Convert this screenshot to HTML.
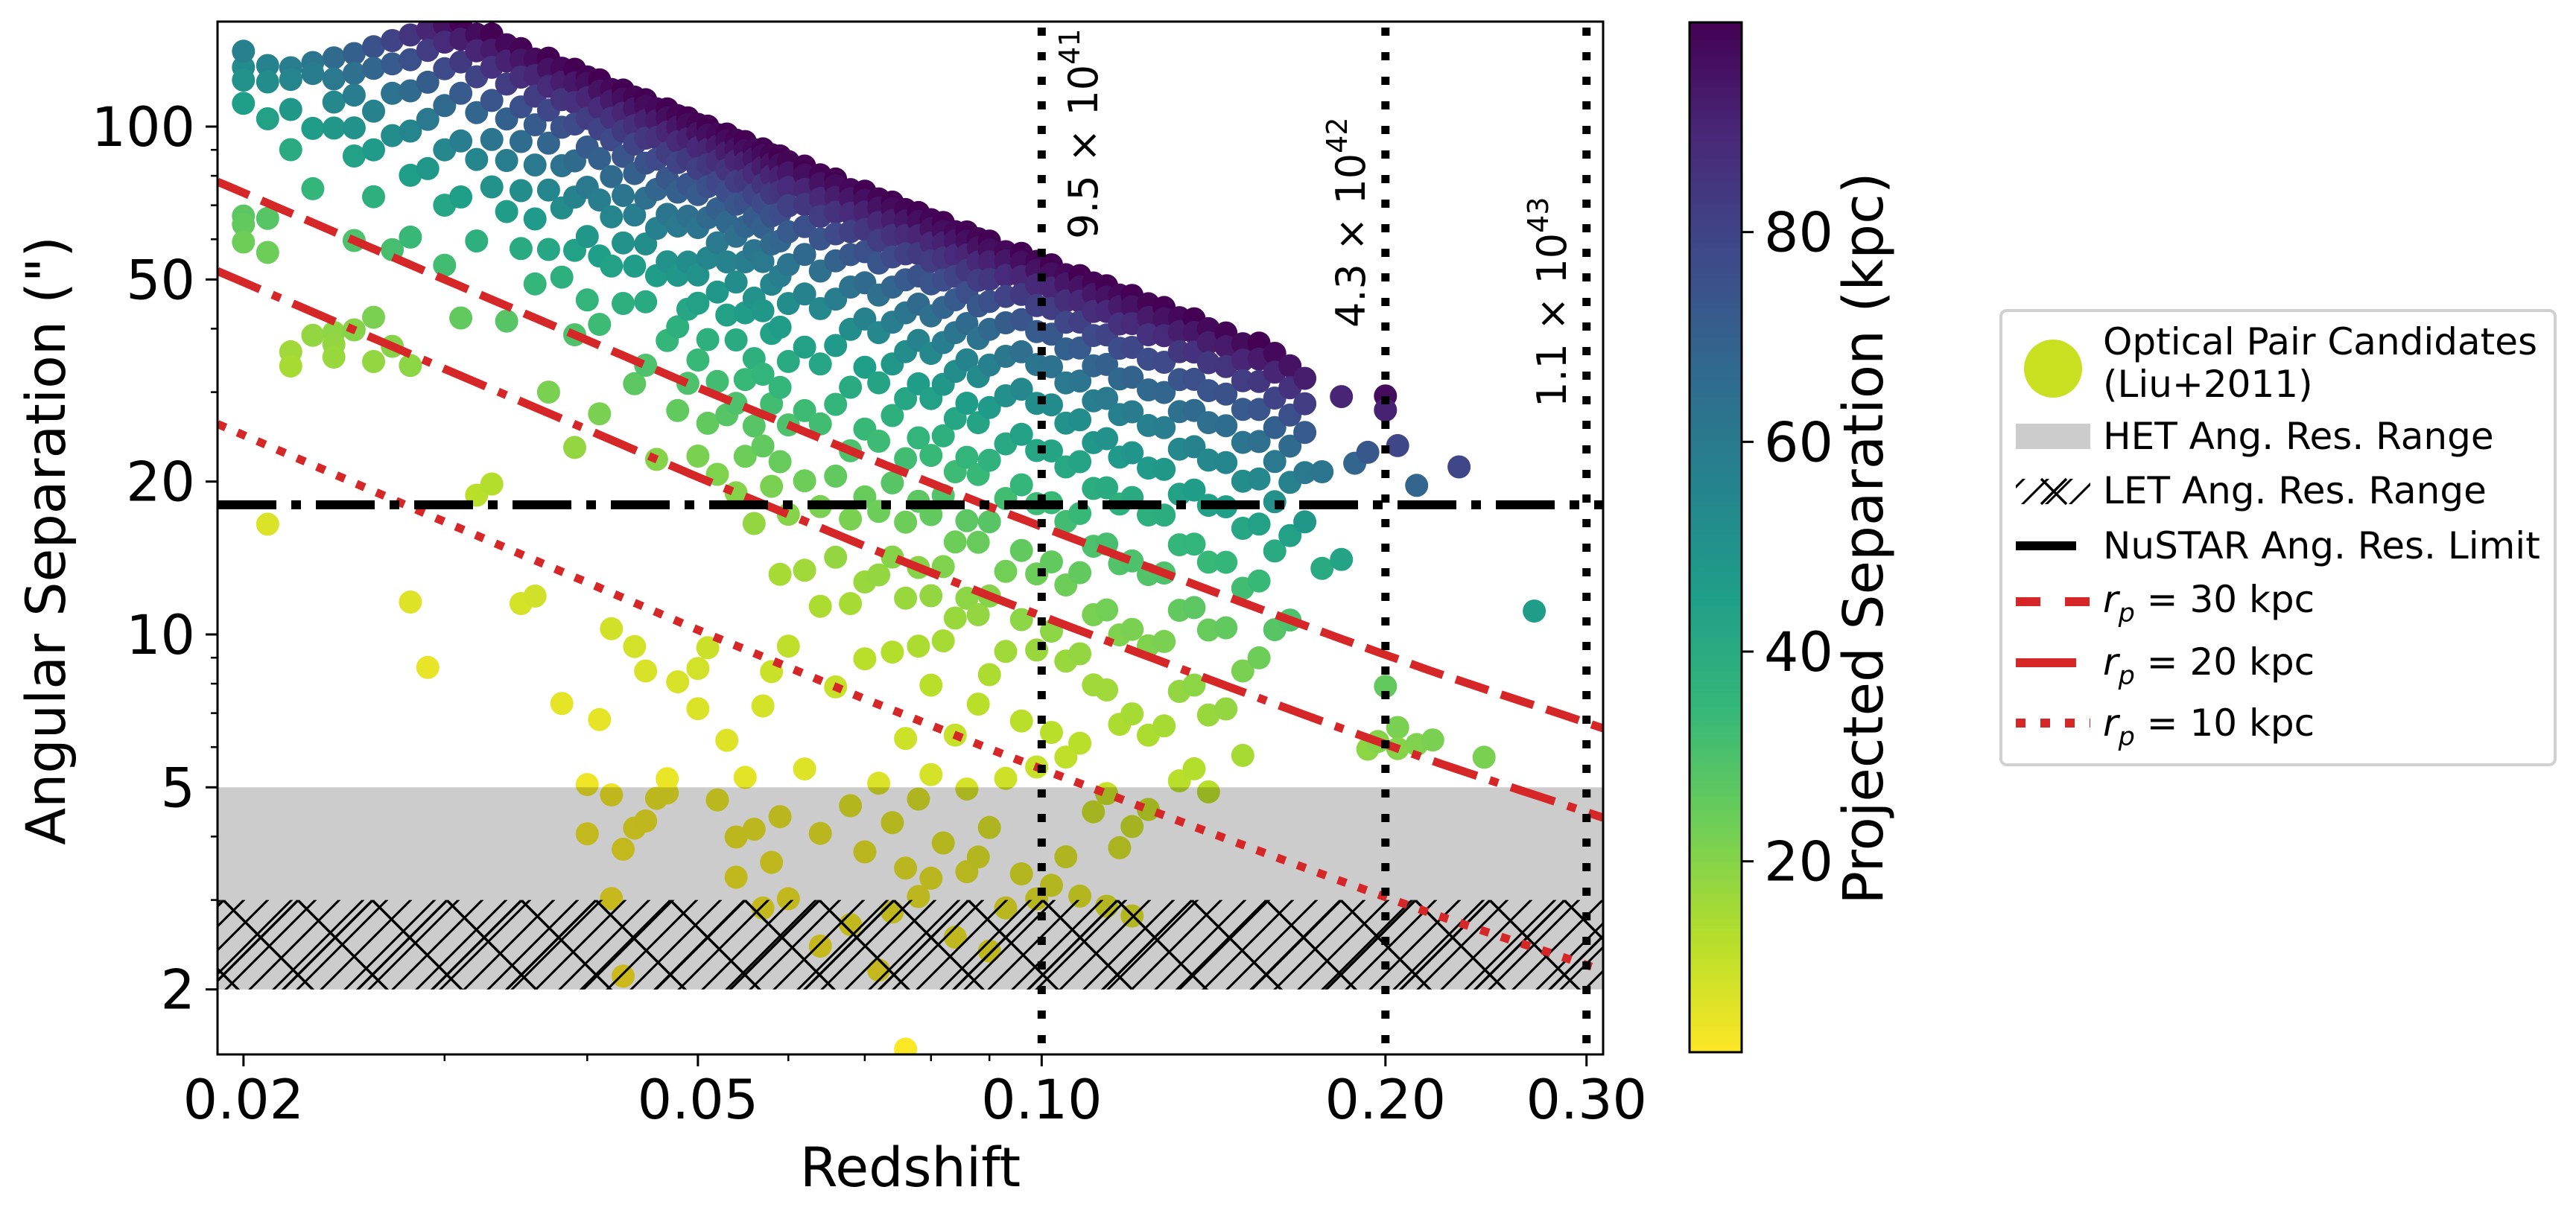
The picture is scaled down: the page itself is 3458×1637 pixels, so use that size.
<!DOCTYPE html>
<html><head><meta charset="utf-8"><style>
html,body{margin:0;padding:0;background:#fff}
svg{display:block;font-family:"DejaVu Sans","Liberation Sans",sans-serif}
</style></head><body>
<svg id="chart" xmlns="http://www.w3.org/2000/svg" width="3458" height="1637" viewBox="0 0 3458 1637">
<defs>
<clipPath id="plotClip"><rect x="292" y="29" width="1860" height="1387"/></clipPath>
<pattern id="hatchSlash" patternUnits="userSpaceOnUse" width="32" height="32">
<path d="M-6,6 L6,-6 M0,32 L32,0 M26,38 L38,26" stroke="#000" stroke-width="3"/>
</pattern>
<pattern id="hatchX" patternUnits="userSpaceOnUse" width="100" height="100" x="0" y="1209">
<path d="M0,0 L100,100 M0,100 L100,0" stroke="#000" stroke-width="3.5"/>
</pattern>
<linearGradient id="cbarGrad" x1="0" y1="1" x2="0" y2="0">
<stop offset="0" stop-color="#fde725"/><stop offset="0.111" stop-color="#b5de2b"/>
<stop offset="0.222" stop-color="#6ece58"/><stop offset="0.333" stop-color="#35b779"/>
<stop offset="0.444" stop-color="#1f9e89"/><stop offset="0.556" stop-color="#26828e"/>
<stop offset="0.667" stop-color="#31688e"/><stop offset="0.778" stop-color="#3e4989"/>
<stop offset="0.889" stop-color="#482878"/><stop offset="1" stop-color="#440154"/>
</linearGradient>
</defs>
<rect x="0" y="0" width="3458" height="1637" fill="#fff"/>
<g id="points" clip-path="url(#plotClip)"></g>
<g id="bands" clip-path="url(#plotClip)"></g>
<g id="lines" clip-path="url(#plotClip)"></g>
<g id="axes"></g>
<g id="cbar"></g>
<g id="legend"></g>
</svg>
<script>
// ---- data ----
const xTicks = [0.02, 0.05, 0.1, 0.2, 0.3];
const xTickLabels = ["0.02", "0.05", "0.10", "0.20", "0.30"];
const xMinorTicks = [0.03, 0.04, 0.06, 0.07, 0.08, 0.09];
const yTicks = [2, 5, 10, 20, 50, 100];
const yTickLabels = ["2", "5", "10", "20", "50", "100"];
const yMinorTicks = [3, 4, 6, 7, 8, 9, 30, 40, 60, 70, 80, 90];
const cbarTicks = [20, 40, 60, 80];
const scaleZ = [0.018, 0.02, 0.03, 0.04, 0.05, 0.06, 0.07, 0.08, 0.09, 0.1, 0.12, 0.14, 0.16, 0.18, 0.2, 0.22, 0.25, 0.28, 0.32];
const scaleKpc = [0.366, 0.405, 0.60, 0.79, 0.98, 1.16, 1.34, 1.51, 1.68, 1.84, 2.15, 2.45, 2.74, 3.02, 3.29, 3.55, 3.91, 4.25, 4.70];
const rpLineValues = [30, 20, 10];
const nustarLimit = 18;
const hetRange = [2, 5];
const letRange = [2, 3];
const lumLines = [0.1, 0.2, 0.3];
const lumLabels = [["9.5 × 10", "41"], ["4.3 × 10", "42"], ["1.1 × 10", "43"]];
const zGroups = [0.020,0.021,0.022,0.023,0.024,0.025,0.026,0.027,0.028,0.029,0.030,0.031,0.032,0.033,0.034,0.035,0.036,0.037,0.038,0.039,0.040,0.041,0.042,0.043,0.044,0.045,0.046,0.047,0.048,0.049,0.050,0.051,0.052,0.053,0.054,0.055,0.056,0.057,0.058,0.059,0.060,0.062,0.064,0.066,0.068,0.070,0.072,0.074,0.076,0.078,0.080,0.082,0.084,0.086,0.088,0.090,0.093,0.096,0.099,0.102,0.105,0.108,0.111,0.114,0.117,0.120,0.124,0.128,0.132,0.136,0.140,0.145,0.150,0.155,0.160,0.165,0.170,0.176,0.183,0.188,0.193,0.197,0.200,0.205,0.213,0.220,0.232,0.244,0.270];
const rpGroups = [
[53,50,57,45,27,26,24],[56,52,44,28,24,7],[58,55,48,40,16,15],[62,59,46,35,18],[66,60,54,48,19,18,17],
[70,64,58,50,44,30,20],[75,68,56,47,38,22,18],[80,72,63,52,31,20],[85,76,66,55,45,34,19,6.5],[90,82,71,60,48,5],
[95,88,78,66,54,42,32],[99,92,83,72,58,45,26],[97,90,80,68,55,38,12],[100,93,86,74,62,50,13],[98,91,82,70,58,46,28],
[99,94,87,76,65,52,40,8],[97,90,82,72,60,47,35,8.5],[100,95,88,79,68,55,42,22],[98,92,85,75,63,52,38,5.5],[100,94,86,78,66,56,44,30,18],
[99,96,90,82,72,60,48,36,4,3.2],[100,95,88,80,70,58,45,33,5.5,22],[98,93,86,78,66,55,44,8.5,4,2.5],[100,96,90,83,74,62,50,38,3.2,1.8],[99,94,87,80,70,58,46,27,8.2,3.6],
[100,97,91,84,75,64,52,40,30,7.5,3.8],[98,93,86,78,68,57,46,20,4.3],[100,96,90,82,73,62,50,35,4.8,4.5],[99,94,88,80,70,60,48,38,26,7.6],[100,97,91,83,74,64,52,42,30],
[99,95,89,81,72,62,50,44,34,22,8.4,7],[100,96,90,84,76,66,55,38,26,9.4],[98,93,87,79,70,60,48,32,21,4.8],[100,97,92,85,77,67,56,44,28,6.4],[99,95,90,82,74,64,52,40,30,20,3.5,4.2],
[100,96,91,84,76,68,58,46,34,24,5.6],[98,94,88,80,72,62,50,38,28,18,4.5],[100,97,92,85,78,70,60,48,36,26,8,3.2],[99,95,90,83,75,66,55,44,32,22,9.5,4],[100,96,91,85,77,68,58,46,35,25,15,5],
[99,94,88,81,72,62,52,40,30,20,11,3.5],[100,96,90,84,76,67,56,44,33,24,16,6.5],[99,95,89,82,74,64,54,42,32,22,14,5,3],[100,97,92,86,78,69,58,47,36,26,18,10],[98,94,88,81,73,63,52,40,30,22,15,6,3.5],
[100,96,91,84,76,66,56,45,34,25,17,12,5],[99,95,89,82,74,64,54,43,33,24,18,7,3],[100,97,92,86,78,68,58,48,38,28,20,13,6,4],[99,94,88,81,72,62,52,42,32,24,17,9,5,2.2],[100,96,90,83,75,66,56,46,36,27,20,14,7,4.5],
[99,95,89,82,74,64,54,44,34,26,18,12,8,5],[100,96,91,85,77,68,58,48,38,29,21,15,6],[98,94,88,80,72,62,52,42,33,24,17,10,4],[100,96,90,84,76,66,56,46,36,27,19,8,5.5],[99,95,89,82,73,63,53,43,34,25,18,12,6],
[100,96,91,84,76,67,57,47,37,28,20,14,7,4],[98,94,88,80,71,61,51,41,32,23,16,9,5],[100,96,90,83,74,64,54,44,35,26,19,12,6],[99,95,89,81,72,62,52,42,33,24,17,10,5.5],[100,96,90,82,73,63,53,43,34,26,19,12,6],
[98,94,87,79,70,60,50,41,32,24,17,11,7],[100,95,89,81,72,62,52,43,34,26,18,12,6],[99,94,87,78,68,58,48,39,30,22,16,9],[100,95,89,80,70,60,50,40,31,23,16,10,6],[98,93,86,77,67,57,47,38,29,21,14,8],
[100,95,88,79,69,59,49,40,30,22,15,9,6],[99,93,86,77,67,57,47,38,29,21,14,10],[100,95,88,78,68,58,48,39,30,22,15],[98,92,84,74,64,54,44,35,26,18,12],[100,94,86,76,66,56,46,36,27,19,13],
[98,92,84,74,64,54,44,34,25,17,12],[99,93,85,75,65,55,45,35,26,18],[97,90,82,72,62,52,42,32,22,15],[100,93,84,74,64,54,44,34,24],[98,90,80,70,60,50,40,28],
[95,86,76,66,56,44,30],[92,82,72,60,48],[62,40],[90,43],[68],[73,19],[20],[97,91,26],[79,22,20],[68,21],[22],[79],[22],[46]
];
// ---- scales ----
const X0 = 292, X1 = 2152, Y0 = 29, Y1 = 1416;
const zMin = 0.01898, zMax = 0.3102;
function xs(z){ return X0 + (Math.log10(z) - Math.log10(zMin)) / (Math.log10(zMax) - Math.log10(zMin)) * (X1 - X0); }
function ys(a){ return 170 + (2 - Math.log10(a)) * 682; }
function kpcPerArcsec(z){
  for (let i = 0; i < scaleZ.length - 1; i++){
    if (z <= scaleZ[i+1] || i === scaleZ.length - 2){
      const t = (Math.log(z) - Math.log(scaleZ[i])) / (Math.log(scaleZ[i+1]) - Math.log(scaleZ[i]));
      return Math.exp(Math.log(scaleKpc[i]) + t * (Math.log(scaleKpc[i+1]) - Math.log(scaleKpc[i])));
    }
  }
}
const vir = [[0x44,0x01,0x54],[0x48,0x28,0x78],[0x3e,0x49,0x89],[0x31,0x68,0x8e],[0x26,0x82,0x8e],[0x1f,0x9e,0x89],[0x35,0xb7,0x79],[0x6e,0xce,0x58],[0xb5,0xde,0x2b],[0xfd,0xe7,0x25]];
const cMin = 1.8, cMax = 100;
function color(v){
  let t = 1 - (v - cMin) / (cMax - cMin); t = Math.max(0, Math.min(1, t));
  const p = t * 9, i = Math.min(8, Math.floor(p)), f = p - i;
  const c = vir[i].map((a, k) => Math.round(a + (vir[i+1][k] - a) * f));
  return `rgb(${c[0]},${c[1]},${c[2]})`;
}
const NS = "http://www.w3.org/2000/svg";
function mk(tag, attrs, parent){
  const el = document.createElementNS(NS, tag);
  for (const k in attrs) el.setAttribute(k, attrs[k]);
  parent.appendChild(el); return el;
}
// ---- points ----
const gP = document.getElementById('points');
zGroups.forEach((z, gi) => {
  rpGroups[gi].forEach(rp => {
    const a = rp / kpcPerArcsec(z);
    const c = mk('circle', {cx: xs(z).toFixed(1), cy: ys(a).toFixed(1), r: 15.5, fill: color(rp)}, gP);
    
    
  });
});
// ---- bands ----
const gB = document.getElementById('bands');
const het = mk('rect', {x: X0, y: ys(hetRange[1]), width: X1 - X0, height: ys(hetRange[0]) - ys(hetRange[1]), fill: 'rgba(0,0,0,0.2)'}, gB);


const let1 = mk('rect', {x: X0, y: ys(letRange[1]), width: X1 - X0, height: ys(letRange[0]) - ys(letRange[1]), fill: 'url(#hatchSlash)'}, gB);


const let2 = mk('rect', {x: X0, y: ys(letRange[1]), width: X1 - X0, height: ys(letRange[0]) - ys(letRange[1]), fill: 'url(#hatchX)'}, gB);


// ---- lines ----
const gL = document.getElementById('lines');
const rpStyles = ['46,18', '62,18,12,18', '12,17'];
const rpNames = ['rp-30-line', 'rp-20-line', 'rp-10-line'];
rpLineValues.forEach((rp, i) => {
  let d = '';
  for (let k = 0; k <= 120; k++){
    const z = zMin * Math.pow(zMax / zMin, k / 120);
    d += (k ? 'L' : 'M') + xs(z).toFixed(1) + ',' + ys(rp / kpcPerArcsec(z)).toFixed(1);
  }
  const p = mk('path', {d: d, fill: 'none', stroke: '#d62728', 'stroke-width': 11, 'stroke-dasharray': rpStyles[i]}, gL);
  
  
});
const nl = mk('line', {x1: X0, x2: X1, y1: ys(nustarLimit), y2: ys(nustarLimit), stroke: '#000', 'stroke-width': 12, 'stroke-dasharray': '79,20,13,20'}, gL);


const gAx = document.getElementById('axes');
lumLines.forEach((z, i) => {
  const l = mk('line', {x1: xs(z), x2: xs(z), y1: Y0 + 8, y2: Y1, stroke: '#000', 'stroke-width': 11, 'stroke-dasharray': '11,22'}, gL);
  
  
});
const annPos = [[1473, 321], [1832, 440], [2102, 547]];
lumLabels.forEach((lab, i) => {
  const t = mk('text', {x: annPos[i][0], y: annPos[i][1], 'font-size': 54, transform: `rotate(-90 ${annPos[i][0]} ${annPos[i][1]})`}, gAx);
  
  
  t.textContent = lab[0];
  const s = mk('tspan', {dy: -24, 'font-size': 38}, t);
  s.textContent = lab[1];
});
// ---- axes ----
const frame = mk('rect', {x: X0, y: Y0, width: X1 - X0, height: Y1 - Y0, fill: 'none', stroke: '#000', 'stroke-width': 3}, gAx);


xTicks.forEach((z, i) => {
  const x = xs(z);
  mk('line', {x1: x, x2: x, y1: Y1, y2: Y1 + 16, stroke: '#000', 'stroke-width': 3}, gAx);
  const t = mk('text', {x: x, y: 1502, 'font-size': 73, 'text-anchor': 'middle'}, gAx);
  
  
  t.textContent = xTickLabels[i];
});
xMinorTicks.forEach(z => { mk('line', {x1: xs(z), x2: xs(z), y1: Y1, y2: Y1 + 9, stroke: '#000', 'stroke-width': 2.5}, gAx); });
yTicks.forEach((v, i) => {
  const y = ys(v);
  mk('line', {x1: X0 - 16, x2: X0, y1: y, y2: y, stroke: '#000', 'stroke-width': 3}, gAx);
  const t = mk('text', {x: 262, y: y + 26, 'font-size': 73, 'text-anchor': 'end'}, gAx);
  
  
  t.textContent = yTickLabels[i];
});
yMinorTicks.forEach(v => { mk('line', {x1: X0 - 9, x2: X0, y1: ys(v), y2: ys(v), stroke: '#000', 'stroke-width': 2.5}, gAx); });
const xl = mk('text', {x: 1222, y: 1593, 'font-size': 73, 'text-anchor': 'middle'}, gAx);


xl.textContent = 'Redshift';
const yl = mk('text', {x: 87, y: 726, 'font-size': 73, 'text-anchor': 'middle', transform: 'rotate(-90 87 726)'}, gAx);


yl.textContent = 'Angular Separation (")';
// ---- colorbar ----
const gC = document.getElementById('cbar');
const CB0 = 30, CB1 = 1413;
function cy(v){ return CB1 - (v - cMin) / (cMax - cMin) * (CB1 - CB0); }
const cr = mk('rect', {x: 2268, y: CB0, width: 70, height: CB1 - CB0, fill: 'url(#cbarGrad)', stroke: '#000', 'stroke-width': 3}, gC);


cbarTicks.forEach(v => {
  mk('line', {x1: 2338, x2: 2354, y1: cy(v), y2: cy(v), stroke: '#000', 'stroke-width': 3}, gC);
  const t = mk('text', {x: 2368, y: cy(v) + 26, 'font-size': 73}, gC);
  
  
  t.textContent = String(v);
});
const cl = mk('text', {x: 2527, y: 723, 'font-size': 74, 'text-anchor': 'middle', transform: 'rotate(-90 2527 723)'}, gC);


cl.textContent = 'Projected Separation (kpc)';
// ---- legend ----
const gLg = document.getElementById('legend');
const box = mk('rect', {x: 2686, y: 417, width: 744, height: 610, rx: 8, fill: '#fff', stroke: '#d0d0d0', 'stroke-width': 4}, gLg);


mk('ellipse', {cx: 2756, cy: 495, rx: 39, ry: 39, fill: '#c8e020'}, gLg);
mk('rect', {x: 2706, y: 569, width: 100, height: 34, fill: '#cccccc'}, gLg);
mk('rect', {x: 2706, y: 643, width: 100, height: 34, fill: 'url(#hatchSlash)'}, gLg);
mk('path', {d: 'M2740,643 L2774,677 M2740,677 L2774,643', stroke: '#000', 'stroke-width': 3.5}, gLg);
mk('line', {x1: 2706, x2: 2787, y1: 733, y2: 733, stroke: '#000', 'stroke-width': 12}, gLg);
mk('line', {x1: 2706, x2: 2806, y1: 808, y2: 808, stroke: '#d62728', 'stroke-width': 12, 'stroke-dasharray': '33,33'}, gLg);
mk('line', {x1: 2706, x2: 2787, y1: 890, y2: 890, stroke: '#d62728', 'stroke-width': 12}, gLg);
mk('line', {x1: 2706, x2: 2806, y1: 971, y2: 971, stroke: '#d62728', 'stroke-width': 12, 'stroke-dasharray': '13,20'}, gLg);
const legTexts = [['Optical Pair Candidates', 476], ['(Liu+2011)', 533], ['HET Ang. Res. Range', 603], ['LET Ang. Res. Range', 676], ['NuSTAR Ang. Res. Limit', 750]];
legTexts.forEach(lt => {
  const t = mk('text', {x: 2823, y: lt[1], 'font-size': 50}, gLg);
  
  
  t.textContent = lt[0];
});
const rpBase = [822, 906, 988];
rpLineValues.forEach((rp, i) => {
  const t = mk('text', {x: 2823, y: rpBase[i], 'font-size': 50}, gLg);
  
  
  const r = mk('tspan', {'font-style': 'italic'}, t); r.textContent = 'r';
  const p = mk('tspan', {'font-style': 'italic', 'font-size': 35, dy: 13}, t); p.textContent = 'p';
  const rest = mk('tspan', {dy: -13}, t); rest.textContent = ' = ' + rp + ' kpc';
});
</script>
</body></html>
